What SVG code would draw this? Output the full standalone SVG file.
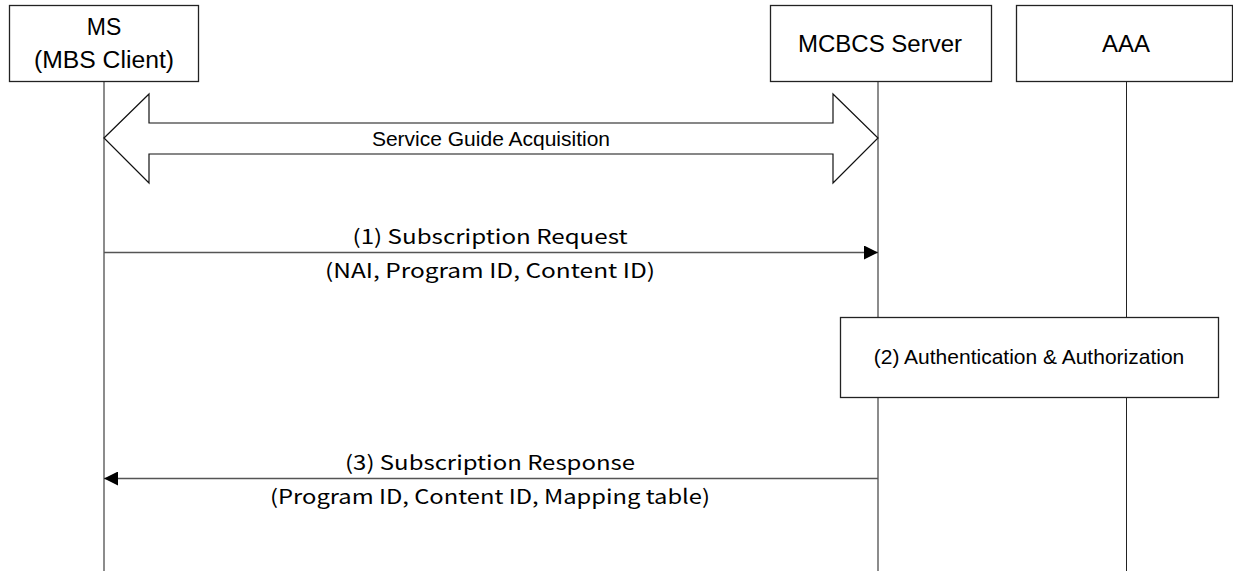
<svg xmlns="http://www.w3.org/2000/svg" width="1233" height="571" viewBox="0 0 1233 571">
<defs>
<style>
.box{fill:#fff;stroke:#222;stroke-width:1.3}
.life{stroke:#666;stroke-width:1.5;fill:none}
.life2{stroke:#222;stroke-width:1;fill:none}
.msg{stroke:#555;stroke-width:1.5;fill:none}
.lbl{font-family:"Liberation Sans",Arial,sans-serif;fill:#000;text-anchor:middle}
.jp{font-family:"Noto Sans CJK JP","Liberation Sans",sans-serif;font-size:20px;fill:#000;text-anchor:middle}
</style>
<marker id="ah" viewBox="0 0 14 14" refX="14" refY="7" markerWidth="14" markerHeight="14" markerUnits="userSpaceOnUse" orient="auto">
<path d="M0,0 L14,7 L0,14 Z" fill="#000"/>
</marker>
</defs>
<rect width="1233" height="571" fill="#fff"/>
<g id="lifelines">
<line class="life" x1="104" y1="81" x2="104" y2="571"/>
<line class="life" x1="878" y1="81" x2="878" y2="571"/>
<line class="life2" x1="1126.5" y1="81" x2="1126.5" y2="571"/>
</g>
<g id="ms">
<rect class="box" x="9.5" y="5.5" width="189" height="76"/>
<text class="lbl" x="104" y="35" font-size="23">MS</text>
<text class="lbl" x="104" y="68" font-size="23" textLength="140" lengthAdjust="spacingAndGlyphs">(MBS Client)</text>
</g>
<g id="mcbcs">
<rect class="box" x="770.5" y="5.5" width="221" height="76"/>
<text class="lbl" x="880" y="52" font-size="24">MCBCS Server</text>
</g>
<g id="aaa">
<rect class="box" x="1016.5" y="5.5" width="216" height="76"/>
<text class="lbl" x="1126" y="52" font-size="24">AAA</text>
</g>
<g id="connectors">
<polygon points="104,138 149,94 149,123 833,123 833,94 878,138 833,183 833,154 149,154 149,183" fill="#fff" stroke="#111" stroke-width="1.2"/>
<text class="lbl" x="491" y="146" font-size="21">Service Guide Acquisition</text>
<line class="msg" x1="104" y1="252.5" x2="878" y2="252.5" marker-end="url(#ah)"/>
<text class="jp" x="490" y="244" textLength="275" lengthAdjust="spacingAndGlyphs">(1) Subscription Request</text>
<text class="jp" x="490" y="278" textLength="330" lengthAdjust="spacingAndGlyphs">(NAI, Program ID, Content ID)</text>
<line class="msg" x1="878" y1="478.5" x2="104" y2="478.5" marker-end="url(#ah)"/>
<text class="jp" x="490" y="470" textLength="290" lengthAdjust="spacingAndGlyphs">(3) Subscription Response</text>
<text class="jp" x="490" y="504" textLength="440" lengthAdjust="spacingAndGlyphs">(Program ID, Content ID, Mapping table)</text>
</g>
<g id="auth">
<rect class="box" x="840.5" y="317.5" width="378" height="80"/>
<text class="lbl" x="1029" y="364" font-size="21">(2) Authentication &amp; Authorization</text>
</g>
</svg>
